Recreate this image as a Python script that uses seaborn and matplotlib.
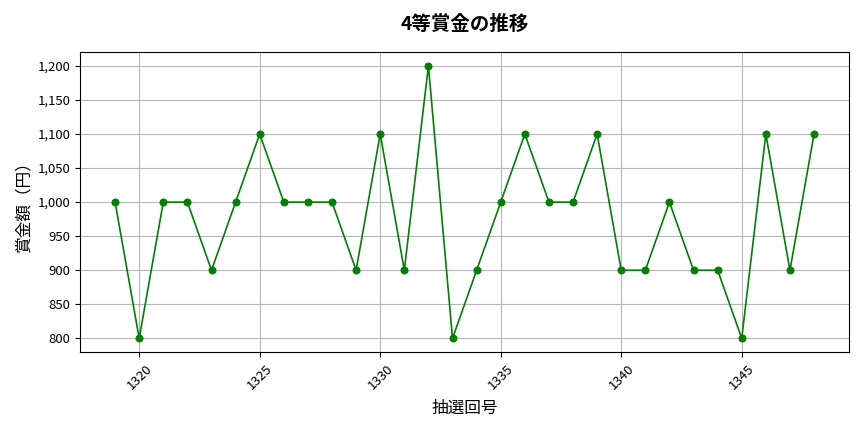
import matplotlib
matplotlib.use("Agg")
import matplotlib.pyplot as plt
import matplotlib.ticker as mticker
import seaborn as sns
import pandas as pd

draws = list(range(1319, 1349))
prizes = [1000, 800, 1000, 1000, 900, 1000, 1100, 1000, 1000, 1000,
          900, 1100, 900, 1200, 800, 900, 1000, 1100, 1000, 1000,
          1100, 900, 900, 1000, 900, 900, 800, 1100, 900, 1100]

df = pd.DataFrame({"draw": draws, "prize": prizes})

sns.set_style("ticks")
plt.rcParams["font.family"] = ["Noto Sans CJK JP", "DejaVu Sans"]
plt.rcParams.update({"text.color": "black", "axes.labelcolor": "black",
                     "xtick.color": "black", "ytick.color": "black"})

fig, ax = plt.subplots(figsize=(8.64, 4.32), dpi=100)
sns.lineplot(data=df, x="draw", y="prize", color="green", marker="o",
             markersize=5, markeredgecolor="green", linewidth=1.2, ax=ax)

ax.set_title("4等賞金の推移", fontsize=14, fontweight="bold", pad=16)
ax.set_xlabel("抽選回号", fontsize=12, labelpad=6)
ax.set_ylabel("賞金額（円）", fontsize=12)
ax.yaxis.set_major_formatter(mticker.StrMethodFormatter("{x:,.0f}"))
ax.set_yticks(range(800, 1201, 50))
ax.xaxis.set_major_locator(mticker.MultipleLocator(5))
ax.tick_params(axis="x", rotation=45, labelsize=9.5, direction="out", length=3.5)
ax.tick_params(axis="y", labelsize=9.5, direction="out", length=3.5)
ax.grid(True, color="#b0b0b0", linewidth=0.8, alpha=0.9)
for s in ax.spines.values():
    s.set_visible(True)
    s.set_color("black")
    s.set_linewidth(0.8)

plt.tight_layout()
plt.savefig("out.png")
